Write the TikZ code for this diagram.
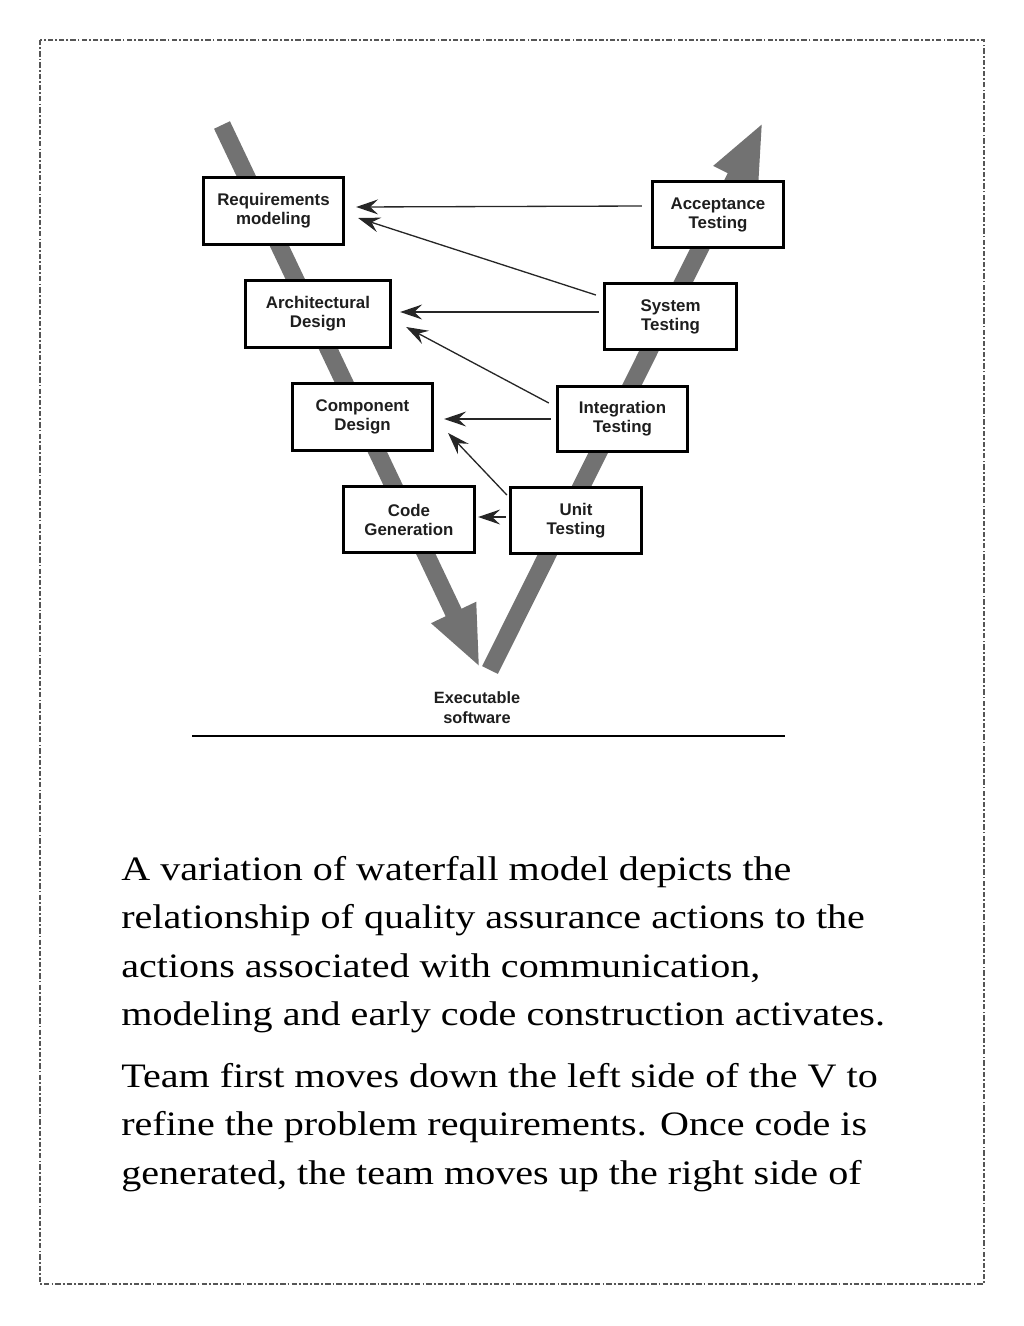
\documentclass[tikz,border=0pt]{standalone}
\usepackage{fontspec}
\usepackage{tikz}
\usepackage{xcolor}
\newfontfamily\boxfont{Liberation Sans}
\newfontfamily\parafont[FakeStretch=1.17]{Liberation Serif}
\definecolor{vBand}{HTML}{727272}
\definecolor{vText}{HTML}{1E1E1E}
\definecolor{vFrame}{HTML}{555555}
\usetikzlibrary{arrows.meta}
\tikzset{
  vbox/.style={draw=black, line width=1.6pt, fill=white, minimum height=38pt, inner sep=0pt,
    align=center, text=vText, font=\boxfont\bfseries\fontsize{9.6}{10.8}\selectfont},
  vband/.style={vBand, line width=10pt, -{Triangle[length=35pt, width=25.5pt]}},
  fb/.style={draw=black!85, line width=0.75pt, -{Stealth[length=12.5pt, width=8.5pt, inset=4.5pt]}},
  paraline/.style={anchor=base west, inner sep=0pt, text=black, font=\parafont\fontsize{19.5}{27.5}\selectfont}
}

\begin{document}
\begin{tikzpicture}[x=0.02cm, y=-0.02cm]
  \useasboundingbox (0,0) rectangle (1024,1326);
  \draw[vFrame, line width=0.6pt, dash pattern=on 3pt off 1.2pt on 1pt off 1.2pt] (40,40) rectangle (984,1284);
  % the V
  \coordinate (vtop) at (222,125);
  \coordinate (vbottom) at (480,668);
  \coordinate (vstart) at (490,670);
  \coordinate (vend) at (763,122);
  \draw[vband] (vtop) -- (vbottom);
  \draw[vband] (vstart) -- (vend);
  % left side
  \node[vbox, minimum width=79.9pt] (req) at (273.5,211) {Requirements\\modeling};
  \node[vbox, minimum width=82.8pt] (arch) at (318,314) {Architectural\\Design};
  \node[vbox, minimum width=79.9pt] (comp) at (362.5,417) {Component\\Design};
  \node[vbox, minimum width=74.8pt] (code) at (409,519.5) {Code\\Generation};
  % right side
  \node[vbox, minimum width=74.8pt] (unit) at (576,520.5) {Unit\\Testing};
  \node[vbox, minimum width=74.3pt, minimum height=37.4pt] (integ) at (622.5,419) {Integration\\Testing};
  \node[vbox, minimum width=75.4pt] (sys) at (670.5,316.5) {System\\Testing};
  \node[vbox, minimum width=74.8pt] (acc) at (718,214.5) {Acceptance\\Testing};
  % feedback arrows
  \draw[fb] ([shift={(-9,-8.5)}]acc.west) -- ([shift={(11,-4)}]req.east);
  \draw[fb] ([shift={(-7,-21.5)}]sys.west) -- ([shift={(13,7)}]req.east);
  \draw[fb] ([shift={(-4,-4.5)}]sys.west) -- ([shift={(8,-2)}]arch.east);
  \draw[fb] ([shift={(-7,-16)}]integ.west) -- ([shift={(14,13)}]arch.east);
  \draw[fb] ([shift={(-5,0)}]integ.west) -- ([shift={(10,2)}]comp.east);
  \draw[fb] ([shift={(-2,-25.5)}]unit.west) -- ([shift={(14,16)}]comp.east);
  \draw[fb] ([shift={(-3,-3.5)}]unit.west) -- ([shift={(2,-2.5)}]code.east);
  \node[align=center, inner sep=0pt, text=vText, font=\boxfont\bfseries\fontsize{9.3}{11.3}\selectfont] (exe) at (477,708) {Executable\\software};
  \coordinate (ruleL) at (192,736);
  \coordinate (ruleR) at (785,736);
  \draw[black, line width=1.2pt] (ruleL) -- (ruleR);
  % text below
  \node[paraline] (l1) at (121,880) {A variation of waterfall model depicts the};
  \node[paraline] (l2) at (121,928.5) {relationship of quality assurance actions to the};
  \node[paraline] (l3) at (121,977) {actions associated with communication,};
  \node[paraline] (l4) at (121,1025.5) {modeling and early code construction activates.};
  \node[paraline] (l5) at (121,1087) {Team first moves down the left side of the V to};
  \node[paraline] (l6) at (121,1135.5) {refine the problem requirements. Once code is};
  \node[paraline] (l7) at (121,1184) {generated, the team moves up the right side of};
\end{tikzpicture}
\end{document}
